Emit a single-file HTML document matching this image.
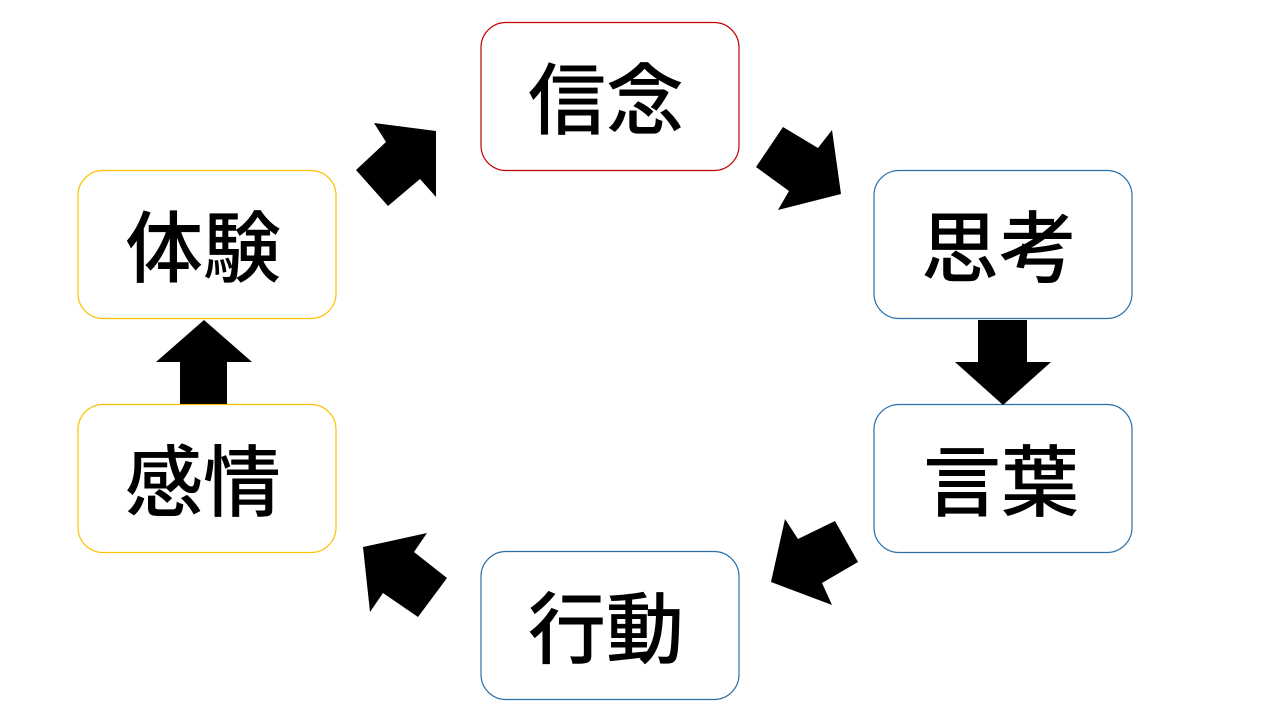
<!DOCTYPE html>
<html><head><meta charset="utf-8"><style>html,body{margin:0;padding:0;background:#fff}svg{display:block}</style></head>
<body>
<svg width="1280" height="720" viewBox="0 0 1280 720" xmlns="http://www.w3.org/2000/svg">
<g fill="#fff" stroke-width="1.2">
<rect x="481" y="22.5" width="258" height="148" rx="25" stroke="#c00000"/>
<rect x="874" y="170.5" width="258" height="148" rx="25" stroke="#2a6fa8"/>
<rect x="874" y="404.5" width="258" height="148" rx="25" stroke="#2a6fa8"/>
<rect x="481" y="551.5" width="258" height="148" rx="25" stroke="#2a6fa8"/>
<rect x="78" y="404.5" width="258" height="148" rx="25" stroke="#ffc000"/>
<rect x="78" y="170.5" width="258" height="148" rx="25" stroke="#ffc000"/>
</g>
<g font-family="Liberation Sans, Noto Sans CJK JP, sans-serif" font-size="78" font-weight="500" text-anchor="middle" dominant-baseline="central" fill="#000">
<text x="606" y="101">信念</text>
<text x="999" y="249">思考</text>
<text x="1001" y="483">言葉</text>
<text x="606" y="630">行動</text>
<text x="203" y="483">感情</text>
<text x="203" y="249">体験</text>
</g>
<g fill="#000">
<polygon points="374,123 436,131 436,197 420,179 388,206 356,170 386,142"/>
<polygon points="783,127 818,148 832,130 841,194 778,210 789,191 756,167"/>
<polygon points="978,320 1027,320 1027,362 1051,362 1003,405 955,362 978,362"/>
<polygon points="785,519 798,539 835,521 858,562 822,583 832,605 771,582"/>
<polygon points="363,547 427,533 414,552 447,578 418,617 383,593 370,612"/>
<polygon points="180,404 227,404 227,362 252,362 204,320 156,362 180,362"/>
</g>
</svg>
</body></html>
